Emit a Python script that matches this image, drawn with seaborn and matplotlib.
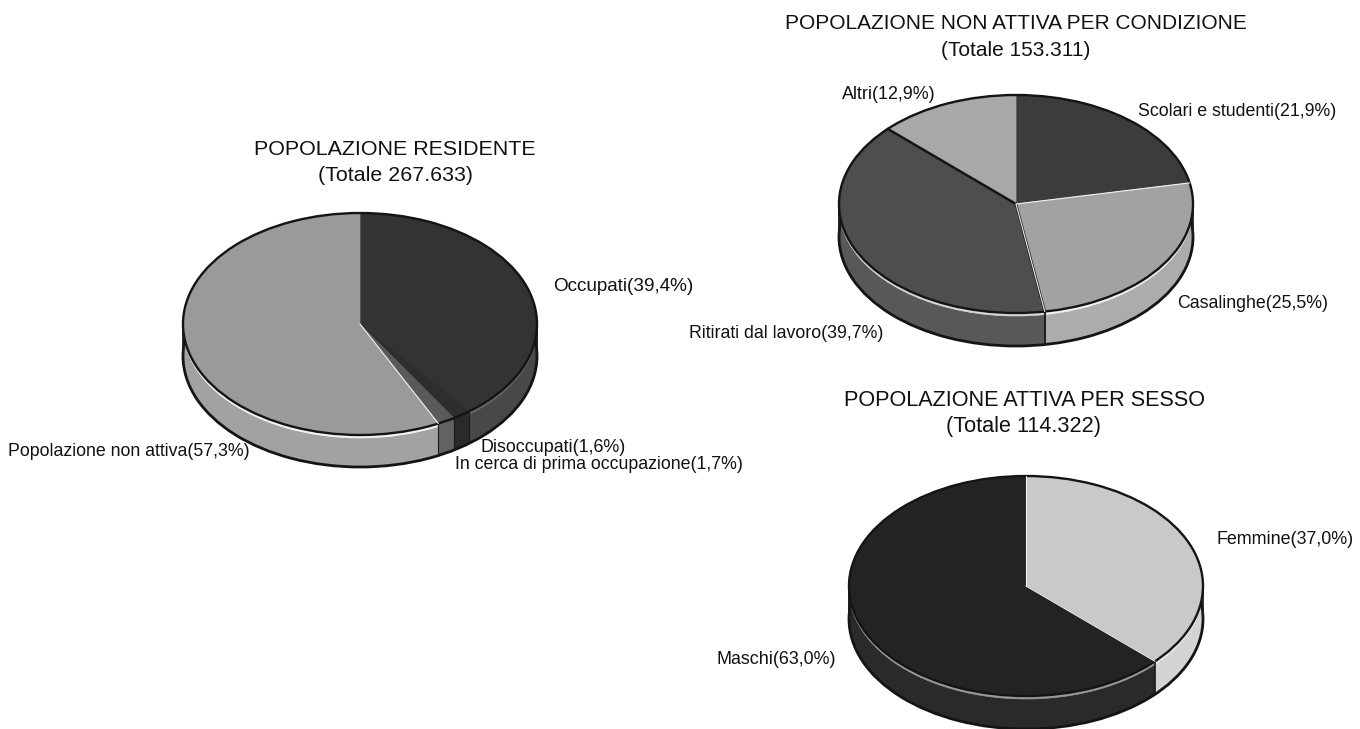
import matplotlib

matplotlib.use("Agg")

import matplotlib.pyplot as plt
import numpy as np
import seaborn as sns

WIDTH, HEIGHT = 1360, 729

# popolazione residente
res_categories = ["Occupati", "In cerca di prima occupazione", "Disoccupati", "Popolazione non attiva"]
res_values = [39.4, 1.7, 1.6, 57.3]
res_top = ["#333333", "#2e2e2e", "#5a5a5a", "#9a9a9a"]
res_side = ["#484848", "#2a2a2a", "#626262", "#a2a2a2"]
res_rim = ["#6a6a6a", "#2a2a2a", "#626262", "#f4f4f4"]

# popolazione non attiva
non_categories = ["Scolari e studenti", "Casalinghe", "Ritirati dal lavoro", "Altri"]
non_values = [21.9, 25.5, 39.7, 12.9]
non_top = ["#3c3c3c", "#a2a2a2", "#4e4e4e", "#a8a8a8"]
non_side = ["#444444", "#acacac", "#585858", "#a8a8a8"]
non_rim = ["#999999", "#f2f2f2", "#d8d8d8", "#f2f2f2"]

# popolazione attiva
att_categories = ["Femmine", "Maschi"]
att_values = [37.0, 63.0]
att_top = ["#c9c9c9", "#232323"]
att_side = ["#d4d4d4", "#2a2a2a"]
att_rim = ["#f0f0f0", "#9a9a9a"]


def make_label(name, value):
    return f"{name}({value:.1f}%)".replace(".", ",")


def flat_layer(ax, values, colors, y=0.0, zorder=1):
    # one slice of the pie's thickness, edges same colour as the fill so no seams show
    wedges, _ = ax.pie(values, colors=colors, center=(0, y), startangle=90, counterclock=False, frame=False)
    for wedge in wedges:
        wedge.set_edgecolor(wedge.get_facecolor())
        wedge.set_linewidth(0.5)
        wedge.set_zorder(zorder)


def outline(ax, y=0.0, lw=1.7, zorder=1):
    ax.pie(
        [1],
        colors=["none"],
        center=(0, y),
        frame=False,
        wedgeprops=dict(edgecolor="#141414", linewidth=lw, zorder=zorder),
    )


def draw_pie(fig, values, top, side, rim, cx, cy, rx, ry, depth, dark_edges, bright_edges, side_lw):
    pad = 4
    left = cx - rx - pad
    bottom_px = cy + ry + depth + pad
    ax = fig.add_axes([
        left / WIDTH,
        1 - bottom_px / HEIGHT,
        (2 * rx + 2 * pad) / WIDTH,
        (2 * ry + depth + 2 * pad) / HEIGHT,
    ])
    d = depth / ry

    outline(ax, -d, lw=2.0, zorder=1.5)
    for off in np.linspace(d, 0, 40):
        flat_layer(ax, values, side, -off)
    flat_layer(ax, values, rim, -3 / ry)
    flat_layer(ax, values, top, zorder=3)
    outline(ax, lw=1.7, zorder=3.5)

    angles = np.cumsum(values) / np.sum(values) * 2 * np.pi
    for theta in angles:
        x, y = np.sin(theta), np.cos(theta)
        if y < 0:
            ax.plot([x, x], [y, y - d], color="#1c1c1c", lw=side_lw, zorder=2)
    for i in dark_edges:
        x, y = np.sin(angles[i]), np.cos(angles[i])
        ax.plot([0, x], [0, y], color="#161616", lw=1.8, zorder=4)
    for i in bright_edges:
        x, y = np.sin(angles[i]), np.cos(angles[i])
        ax.plot([0, x], [0, y], color="#f0f0f0", lw=0.8, zorder=4.5)
    for x in (-1, 1):
        ax.plot([x, x], [0, -d], color="#1c1c1c", lw=1.2, zorder=2)

    ax.set_aspect("auto")
    ax.set_xlim(-1 - pad / rx, 1 + pad / rx)
    ax.set_ylim(-1 - d - pad / ry, 1 + pad / ry)
    ax.axis("off")
    for artist in ax.patches + ax.lines:
        artist.set_clip_on(False)


def main():
    sns.set_theme(style="white")
    plt.rcParams["font.family"] = ["Liberation Sans", "DejaVu Sans"]

    fig = plt.figure(figsize=(WIDTH / 100, HEIGHT / 100), dpi=100, facecolor="white")

    draw_pie(fig, res_values, res_top, res_side, res_rim, 360, 324, 177, 111, 32, [], [2], 0.8)
    draw_pie(fig, non_values, non_top, non_side, non_rim, 1016, 204, 177, 109, 33, [1, 2], [0, 1], 1.4)
    draw_pie(fig, att_values, att_top, att_side, att_rim, 1026, 586, 177, 110, 33, [], [0, 1], 1.2)

    overlay = fig.add_axes([0, 0, 1, 1], zorder=10)
    overlay.set_xlim(0, WIDTH)
    overlay.set_ylim(HEIGHT, 0)
    overlay.axis("off")

    for x, y, size, text in [
        (395, 149, 15.4, "POPOLAZIONE RESIDENTE"),
        (395, 175, 15.4, "(Totale 267.633)"),
        (1016, 23, 15.0, "POPOLAZIONE NON ATTIVA PER CONDIZIONE"),
        (1016, 50, 15.0, "(Totale 153.311)"),
        (1024, 400, 15.6, "POPOLAZIONE ATTIVA PER SESSO"),
        (1024, 426, 15.6, "(Totale 114.322)"),
    ]:
        overlay.text(x, y, text, ha="center", va="center", fontsize=size, color="#111111")

    placed = [
        (553, 286, 13.6, res_categories[0], res_values[0]),
        (455, 464, 12.8, res_categories[1], res_values[1]),
        (481, 447, 12.85, res_categories[2], res_values[2]),
        (8, 451, 12.8, res_categories[3], res_values[3]),
        (1138, 111, 12.8, non_categories[0], non_values[0]),
        (1177, 303, 12.8, non_categories[1], non_values[1]),
        (689, 333, 12.75, non_categories[2], non_values[2]),
        (842, 94, 12.85, non_categories[3], non_values[3]),
        (1216, 539, 12.85, att_categories[0], att_values[0]),
        (717, 660, 12.85, att_categories[1], att_values[1]),
    ]
    for x, y, size, name, value in placed:
        overlay.text(x, y, make_label(name, value), ha="left", va="center", fontsize=size, color="#111111")

    fig.savefig("out.png", dpi=100)
    plt.close(fig)


if __name__ == "__main__":
    main()
